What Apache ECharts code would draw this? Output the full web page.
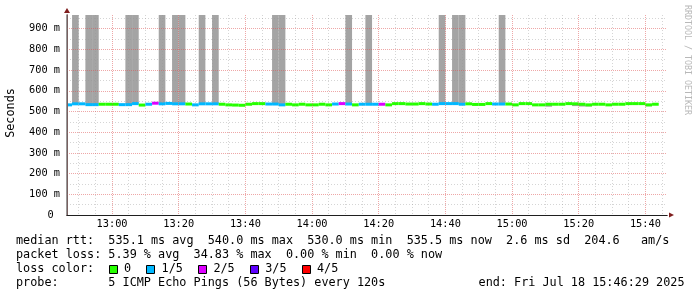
<!DOCTYPE html>
<html><head><meta charset="utf-8">
<script src="https://cdn.jsdelivr.net/npm/echarts@6/dist/echarts.min.js"></script>
<style>html,body{margin:0;padding:0;background:#fff}#c{width:697px;height:297px}</style>
</head><body><div id="c"></div>
<script>
// ---- data ----
const stepStarts = [
 '12:46','12:48','12:50','12:52','12:54','12:56','12:58',
 '13:00','13:02','13:04','13:06','13:08','13:10','13:12','13:14','13:16','13:18',
 '13:20','13:22','13:24','13:26','13:28','13:30','13:32','13:34','13:36','13:38',
 '13:40','13:42','13:44','13:46','13:48','13:50','13:52','13:54','13:56','13:58',
 '14:00','14:02','14:04','14:06','14:08','14:10','14:12','14:14','14:16','14:18',
 '14:20','14:22','14:24','14:26','14:28','14:30','14:32','14:34','14:36','14:38',
 '14:40','14:42','14:44','14:46','14:48','14:50','14:52','14:54','14:56','14:58',
 '15:00','15:02','15:04','15:06','15:08','15:10','15:12','15:14','15:16','15:18',
 '15:20','15:22','15:24','15:26','15:28','15:30','15:32','15:34','15:36','15:38','15:40','15:42'
];
const stepMinutes = 2;
const medianMs = [
 532,537,537,533,533,535,535,
 535,533,533,538,531,535,540,537,539,537,
 537,536,532,537,537,537,535,532,531,530,
 535,538,538,536,536,532,535,532,535,532,
 532,535,532,536,538,536,532,535,535,535,
 535,532,538,538,536,536,538,536,535,538,
 538,538,535,537,534,534,538,536,536,536,
 532,538,538,532,532,535,535,535,538,537,
 535,532,535,535,532,535,535,538,538,538,532,535
];
const lossCount = [
 1,1,1,1,1,0,0,
 0,1,1,1,0,1,2,1,1,1,
 1,0,1,1,1,1,0,0,0,0,
 0,0,0,1,1,1,0,0,0,0,
 0,0,0,1,2,1,0,1,1,1,
 2,0,0,0,0,0,0,0,1,1,
 1,1,1,0,0,0,0,1,1,0,
 0,0,0,0,0,0,0,0,0,0,
 0,0,0,0,0,0,0,0,0,0,0,0
];
const smokeLow = [
 null,537,null,533,533,null,533,
 533,null,533,538,null,null,null,537,null,537,
 537,null,null,537,null,537,null,null,null,null,
 null,null,null,null,536,532,null,null,null,null,
 null,null,null,null,null,536,null,null,535,null,
 null,null,null,null,null,null,null,null,null,538,
 null,538,535,null,null,null,null,null,536,null,
 null,null,null,null,null,523,null,null,null,526,
 524,524,null,null,null,null,null,null,null,null,525,null
];
const smokeHigh = [
 null,1000,null,1000,1000,null,541,
 541,null,1000,1000,null,null,null,1000,null,1000,
 1000,null,null,1000,null,1000,null,null,null,null,
 null,null,null,null,1000,1000,null,null,null,null,
 null,null,null,null,null,1000,null,null,1000,null,
 null,null,null,null,null,null,null,null,null,1000,
 null,1000,1000,null,null,null,null,null,1000,null,
 null,null,null,null,null,535,null,null,null,538,
 535,532,null,null,null,null,null,null,null,null,532,null
];
const lossColors = ['#26ff00','#00b8ff','#dd00ff','#5e00ff','#ff0000'];
const lossLabels = ['0','1/5','2/5','3/5','4/5'];
const endTime = '15:46:29';
const rangeMinutes = 180;
const yMaxMs = 966;
const yTickStep = 100, yMinorStep = 50, xTickStep = 20, xMinorStep = 5;
const statLines = [
 'median rtt:  535.1 ms avg  540.0 ms max  530.0 ms min  535.5 ms now  2.6 ms sd  204.6   am/s',
 'packet loss: 5.39 % avg  34.83 % max  0.00 % min  0.00 % now'
];
const legendTitle = 'loss color:';
const probeText = 'probe:       5 ICMP Echo Pings (56 Bytes) every 120s';
const endText = 'end: Fri Jul 18 15:46:29 2025';
const yTitle = 'Seconds';
const watermark = 'RRDTOOL / TOBI OETIKER';

// ---- helpers ----
const toMin = s => { const p = s.split(':').map(Number); return p[0]*60 + p[1] + (p[2]||0)/60; };
const fmtMin = v => { const t = Math.round(v); return Math.floor(t/60) + ':' + String(t%60).padStart(2,'0'); };
const xMax = toMin(endTime), xMin = xMax - rangeMinutes;
const medianData = stepStarts.map((s,i) => [toMin(s), toMin(s)+stepMinutes, medianMs[i], lossCount[i]]);
const smokeData = stepStarts.map((s,i) => [toMin(s), toMin(s)+stepMinutes, smokeLow[i], smokeHigh[i]])
  .filter(d => d[2] != null && d[3] != null);

const MONO = '"DejaVu Sans Mono"';
const RED = 'rgba(222,79,79,0.5)';
const GRAY = 'rgba(150,150,150,0.4)';
const NONE = 'rgba(0,0,0,0)';

const chart = echarts.init(document.getElementById('c'), null, {renderer:'canvas'});

function medianItem(params, api){
  const x0 = api.value(0), x1 = api.value(1), v = api.value(2), l = api.value(3);
  const p0 = api.coord([x0, v]), p1 = api.coord([x1, v]);
  const r = echarts.graphic.clipRectByRect({x:p0[0], y:p0[1]-1.5, width:p1[0]-p0[0], height:3}, params.coordSys);
  return r && {type:'rect', shape:r, style:{fill: lossColors[l]}};
}
function smokeItem(params, api){
  const x0 = api.value(0), x1 = api.value(1), lo = api.value(2), hi = api.value(3);
  const p0 = api.coord([x0, hi]), p1 = api.coord([x1, lo]);
  const r = echarts.graphic.clipRectByRect({x:p0[0], y:p0[1], width:p1[0]-p0[0], height:p1[1]-p0[1]}, params.coordSys);
  return r && {type:'rect', shape:r, style:{fill:'#a4a4a4'}};
}

// legend + text graphics
const CW = 7.12, TX = 16;
const font = '11.8px ' + MONO;
const rowY = [241, 255, 269, 283];
const g = [];
statLines.forEach((t,i) => g.push({type:'text', x:TX, y:rowY[i], style:{text:t, font, fill:'#000', textVerticalAlign:'middle', verticalAlign:'middle'}}));
g.push({type:'text', x:TX, y:rowY[2], style:{text:legendTitle, font, fill:'#000', textVerticalAlign:'middle', verticalAlign:'middle'}});
let bx = TX + 13*CW;
lossLabels.forEach((lab,i) => {
  g.push({type:'rect', shape:{x:Math.round(bx)+0.5, y:265.5, width:8, height:8}, style:{fill:lossColors[i], stroke:'#000', lineWidth:1}});
  const tx = bx + 15.5;
  g.push({type:'text', x:tx, y:rowY[2], style:{text:lab, font, fill:'#000', textVerticalAlign:'middle', verticalAlign:'middle'}});
  bx = tx + (lab.length + 2)*CW + 0.7;
});
g.push({type:'text', x:TX, y:rowY[3], style:{text:probeText, font, fill:'#000', textVerticalAlign:'middle', verticalAlign:'middle'}});
g.push({type:'text', x:684.5, y:rowY[3], style:{text:endText, font, fill:'#000', textAlign:'right', align:'right', textVerticalAlign:'middle', verticalAlign:'middle'}});
g.push({type:'text', x:11, y:113, rotation:Math.PI/2, style:{text:yTitle, font, fill:'#000', textAlign:'center', align:'center', textVerticalAlign:'middle', verticalAlign:'middle'}});
g.push({type:'text', x:687, y:5, rotation:-Math.PI/2, style:{text:watermark, font:'8.3px ' + MONO, fill:'#b8b8b8', textAlign:'left', align:'left', textVerticalAlign:'middle', verticalAlign:'middle'}});

const option = {
  animation: false,
  backgroundColor: '#fff',
  grid: {left:67, top:15, width:600, height:200, containLabel:false},
  xAxis: [
    {type:'value', min:xMin, max:xMax, minInterval:xTickStep, maxInterval:xTickStep, z:4, position:'bottom',
     axisLine:{show:true, onZero:false, lineStyle:{color:'#1f1f1f', width:1}},
     axisTick:{show:false},
     axisLabel:{show:true, showMinLabel:false, showMaxLabel:false, margin:4, color:'#000', fontFamily:MONO, fontSize:10.3,
       formatter: v => Math.abs(v % xTickStep) < 1e-6 ? fmtMin(v) : ''},
     splitLine:{show:true, showMinLine:false, showMaxLine:false, lineStyle:{color:RED, type:[1,1], width:1}}},
    {type:'value', min:xMin, max:xMax, minInterval:xMinorStep, maxInterval:xMinorStep, z:3, position:'bottom',
     axisLine:{show:true, onZero:false, symbol:['none','triangle'], symbolSize:[5,5], symbolOffset:[0,4.5], lineStyle:{color:'#801f1f', width:1}},
     axisTick:{show:false}, axisLabel:{show:false},
     splitLine:{show:true, showMinLine:false, showMaxLine:false, lineStyle:{color:[GRAY,GRAY,NONE,GRAY], type:[1,2], width:1}}}
  ],
  yAxis: [
    {type:'value', min:0, max:yMaxMs, interval:yTickStep, z:4, position:'left',
     axisLine:{show:true, onZero:false, lineStyle:{color:'#777', width:1.5}},
     axisTick:{show:false},
     axisLabel:{show:true, showMaxLabel:false, margin:7, color:'#000', fontFamily:MONO, fontSize:10.3,
       formatter: v => v === 0 ? '0 ' : (v % yTickStep === 0 ? v + ' m' : '')},
     splitLine:{show:true, showMinLine:false, showMaxLine:false, lineStyle:{color:RED, type:[1,1], width:1}}},
    {type:'value', min:0, max:yMaxMs, interval:yMinorStep, z:3, position:'left',
     axisLine:{show:true, onZero:false, symbol:['none','triangle'], symbolSize:[6,5], symbolOffset:[0,4.5], lineStyle:{color:'#801f1f', width:1}},
     axisTick:{show:false}, axisLabel:{show:false},
     splitLine:{show:true, showMinLine:false, showMaxLine:false, lineStyle:{color:[GRAY,NONE], type:[1,2], width:1}}}
  ],
  series: [
    {type:'custom', xAxisIndex:0, yAxisIndex:0, z:1, silent:true, renderItem:smokeItem, encode:{x:[0,1], y:[2,3]}, data:smokeData},
    {type:'custom', xAxisIndex:0, yAxisIndex:0, z:2, silent:true, renderItem:medianItem, encode:{x:[0,1], y:2}, data:medianData}
  ],
  graphic: g
};
chart.setOption(option);
</script></body></html>
